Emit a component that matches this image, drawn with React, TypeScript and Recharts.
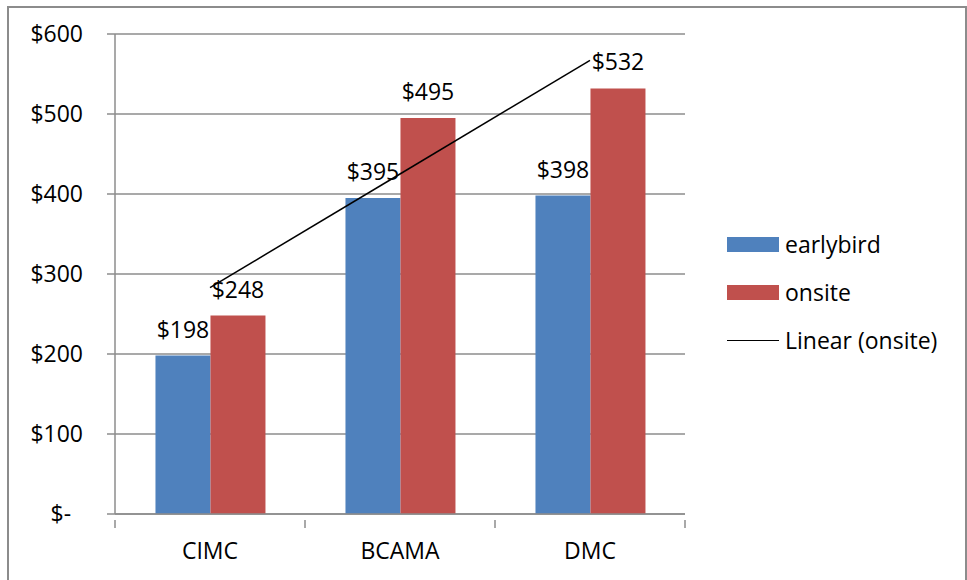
import { Bar, CartesianGrid, ComposedChart, LabelList, Line, XAxis, YAxis } from 'recharts'

const categories = ['CIMC', 'BCAMA', 'DMC']
const earlybird = [198, 395, 398]
const onsite = [248, 495, 532]
// trendline values at each category centre
const trend = [283, 425, 567]
const yTicks = [0, 100, 200, 300, 400, 500, 600]

const data = categories.map((name, i) => ({
  name,
  earlybird: earlybird[i],
  onsite: onsite[i],
  trend: trend[i],
}))

const FONT = '"Open Sans", Lato, sans-serif'
const FS = 23
const GRID = '#8c8c8c'
const BLUE = '#4f81bd'
const RED = '#c0504d'
const PLOT_W = 570
const HALF_BAND = PLOT_W / categories.length / 2

const money = (v: number) => (v === 0 ? '$-\u00a0\u00a0' : `$${v}`)

function XTick(props: any) {
  const { x, y, payload, index } = props
  const top = y - 23
  return (
    <g>
      <line x1={x - HALF_BAND} x2={x - HALF_BAND} y1={top} y2={top + 8} stroke={GRID} strokeWidth={1.5} />
      {index === categories.length - 1 && (
        <line x1={x + HALF_BAND} x2={x + HALF_BAND} y1={top} y2={top + 8} stroke={GRID} strokeWidth={1.5} />
      )}
      <text x={x} y={y} dy="0.71em" textAnchor="middle" fill="#000" fontSize={FS} fontFamily={FONT}>
        {payload.value}
      </text>
    </g>
  )
}

function ChartLegend() {
  const row = { display: 'flex', alignItems: 'center', height: 48 } as const
  const text = { fontSize: FS, fontFamily: FONT, color: '#000', marginLeft: 6 }
  return (
    <div style={{ position: 'absolute', left: 727, top: 220 }}>
      <div style={row}>
        <span style={{ width: 52, height: 15, background: BLUE, display: 'inline-block' }} />
        <span style={text}>earlybird</span>
      </div>
      <div style={row}>
        <span style={{ width: 52, height: 15, background: RED, display: 'inline-block' }} />
        <span style={text}>onsite</span>
      </div>
      <div style={row}>
        <span style={{ width: 52, height: 0, borderTop: '1.5px solid #000', display: 'inline-block' }} />
        <span style={text}>Linear (onsite)</span>
      </div>
    </div>
  )
}

export default function App() {
  return (
    <div style={{ position: 'fixed', left: 0, top: 0, width: 967, height: 580, background: '#fff', overflow: 'hidden' }}>
      <div
        style={{
          position: 'absolute',
          left: 7,
          top: 6,
          width: 956,
          height: 620,
          border: '2px solid #8c8c8c',
        }}
      />
      <ComposedChart
        width={967}
        height={580}
        data={data}
        margin={{ top: 34, right: 282, bottom: 6, left: 0 }}
        barCategoryGap="21.3%"
        barGap={0}
        style={{ position: 'absolute', left: 0, top: 0 }}
      >
        <CartesianGrid vertical={false} stroke={GRID} strokeWidth={1.5} />
        <XAxis
          dataKey="name"
          height={60}
          axisLine={{ stroke: GRID, strokeWidth: 1.5 }}
          tickLine={false}
          tickSize={8}
          tickMargin={21}
          tick={<XTick />}
        />
        <YAxis
          width={115}
          domain={[0, 600]}
          ticks={yTicks}
          interval={0}
          tickFormatter={money}
          axisLine={{ stroke: GRID, strokeWidth: 1.5 }}
          tickLine={{ stroke: GRID, strokeWidth: 1.5 }}
          tickSize={8}
          tickMargin={24}
          tick={{ fill: '#000', fontSize: FS, fontFamily: FONT }}
        />
        <Bar dataKey="earlybird" fill={BLUE} isAnimationActive={false}>
          <LabelList dataKey="earlybird" position="top" offset={18} formatter={(v: any) => `$${v}`} fill="#000" fontSize={FS} fontFamily={FONT} />
        </Bar>
        <Bar dataKey="onsite" fill={RED} isAnimationActive={false}>
          <LabelList dataKey="onsite" position="top" offset={18} formatter={(v: any) => `$${v}`} fill="#000" fontSize={FS} fontFamily={FONT} />
        </Bar>
        <Line type="linear" dataKey="trend" stroke="#000" strokeWidth={1.5} dot={false} isAnimationActive={false} />
      </ComposedChart>
      <ChartLegend />
    </div>
  )
}
